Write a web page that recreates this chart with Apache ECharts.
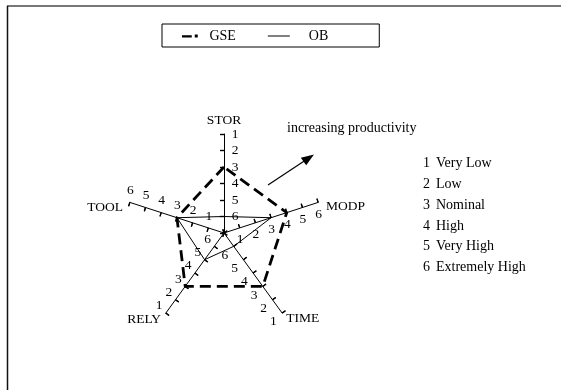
<!DOCTYPE html>
<html>
<head>
<meta charset="utf-8">
<script src="https://cdn.jsdelivr.net/npm/echarts@6/dist/echarts.min.js"></script>
<style>
  html, body { margin: 0; padding: 0; background: #fff; }
  #chart { width: 561px; height: 390px; }
</style>
</head>
<body>
<div id="chart"></div>
<script>
// Cost drivers on the five spokes, counter-clockwise from the top
const drivers = ['STOR', 'TOOL', 'RELY', 'TIME', 'MODP'];
// Spokes whose rating 1 sits at the rim (rating 6 next to the hub)
const ratingOneOutside = [true, false, true, true, false];
// Ratings for each project (1 = Very Low ... 6 = Extremely High)
const gseRatings = [3, 3, 3, 3, 4];
const obRatings = [6, 3, 5, 6, 3];
// Rating scale key
const ratingCodes = ['1', '2', '3', '4', '5', '6'];
const ratingNames = ['Very Low', 'Low', 'Nominal', 'High', 'Very High', 'Extremely High'];

const SERIF = '"Liberation Serif", "Times New Roman", serif';
const maxRating = ratingCodes.length;

// Tick numbers sit on the clockwise side of every spoke
const labelMargin = { STOR: -14.5, TOOL: -12.5, RELY: -12.5, TIME: -15, MODP: -12.5 };
// Side spoke names hang a little below the spoke end
const droppedNames = ['TOOL', 'MODP'];

// Distance from the hub in rating steps, honouring each spoke's direction
function toRadial(ratings) {
  return ratings.map((r, i) => ratingOneOutside[i] ? maxRating + 1 - r : r);
}

function spokeLabel(i) {
  return function (v) {
    if (v <= 0) return '';
    return String(ratingOneOutside[i] ? maxRating + 1 - v : v);
  };
}

const radarBase = {
  center: [224, 233],
  radius: 99,
  startAngle: 90,
  splitNumber: maxRating,
  shape: 'polygon',
  splitLine: { show: false },
  splitArea: { show: false }
};

const chart = echarts.init(document.getElementById('chart'), null, { renderer: 'canvas' });

chart.setOption({
  backgroundColor: '#fff',
  animation: false,
  legend: {
    left: 162,
    top: 24,
    orient: 'horizontal',
    padding: [5, 51, 4, 20],
    borderColor: '#000',
    borderWidth: 1,
    itemGap: 32,
    itemWidth: 22,
    itemHeight: 3,
    textStyle: { fontFamily: SERIF, fontSize: 14, color: '#000' },
    formatter: function (name) { return name === 'OB' ? '    OB' : ' ' + name; },
    data: [
      { name: 'GSE', icon: 'path://M0,1H13V4H0Z M17,0H21V4H17Z' },
      { name: 'OB', icon: 'path://M0,0H22V1H0Z' }
    ]
  },
  radar: [
    Object.assign({}, radarBase, {
      indicator: drivers.map((d, i) => ({
        name: d, min: 0, max: maxRating,
        axisLabel: { formatter: spokeLabel(i), margin: labelMargin[d] }
      })),
      axisName: {
        color: '#000', fontFamily: SERIF, fontSize: 13.5, lineHeight: 14,
        formatter: function (name) { return droppedNames.indexOf(name) >= 0 ? '\n' + name : name; }
      },
      nameGap: 7,
      axisLine: { lineStyle: { color: '#000', width: 1 } },
      axisTick: { show: true, inside: true, length: 4, lineStyle: { color: '#000', width: 1.2 } },
      axisLabel: { show: true, color: '#000', fontFamily: SERIF, fontSize: 13.5 }
    }),
    Object.assign({}, radarBase, {
      indicator: drivers.map(d => ({ name: d, min: 0, max: maxRating })),
      axisName: { show: false },
      axisLine: { show: false },
      axisTick: { show: true, inside: false, length: 4, lineStyle: { color: '#000', width: 1.2 } },
      axisLabel: { show: false }
    })
  ],
  series: [
    {
      name: 'GSE',
      type: 'radar',
      radarIndex: 0,
      symbol: 'none',
      itemStyle: { color: '#000' },
      lineStyle: { color: '#000', width: 2.8, type: [11, 6] },
      data: [{ value: toRadial(gseRatings), name: 'GSE' }]
    },
    {
      name: 'OB',
      type: 'radar',
      radarIndex: 0,
      symbol: 'none',
      itemStyle: { color: '#000' },
      lineStyle: { color: '#000', width: 1 },
      data: [{ value: toRadial(obRatings), name: 'OB' }]
    }
  ],
  graphic: [
    // page frame
    { type: 'line', shape: { x1: 7, y1: 6, x2: 561, y2: 6 }, style: { stroke: '#777', lineWidth: 2 } },
    { type: 'line', shape: { x1: 7.5, y1: 6, x2: 7.5, y2: 390 }, style: { stroke: '#111', lineWidth: 1.5 } },
    // productivity arrow
    { type: 'line', shape: { x1: 268, y1: 185, x2: 305, y2: 160.5 }, style: { stroke: '#000', lineWidth: 1.2 } },
    { type: 'polygon', shape: { points: [[314, 154.5], [306.2, 165.2], [300.8, 157.8]] }, style: { fill: '#000' } },
    { type: 'text', left: 287, top: 121.5, style: { text: 'increasing productivity', font: '14px ' + SERIF, fill: '#000' } },
    // rating key
    {
      type: 'group', left: 423, top: 156.5,
      children: ratingCodes.map((c, i) => ({
        type: 'group', y: i * 20.8,
        children: [
          { type: 'text', x: 0, y: 0, style: { text: c, font: '14px ' + SERIF, fill: '#000' } },
          { type: 'text', x: 13, y: 0, style: { text: ratingNames[i], font: '14px ' + SERIF, fill: '#000' } }
        ]
      }))
    }
  ]
});
</script>
</body>
</html>
